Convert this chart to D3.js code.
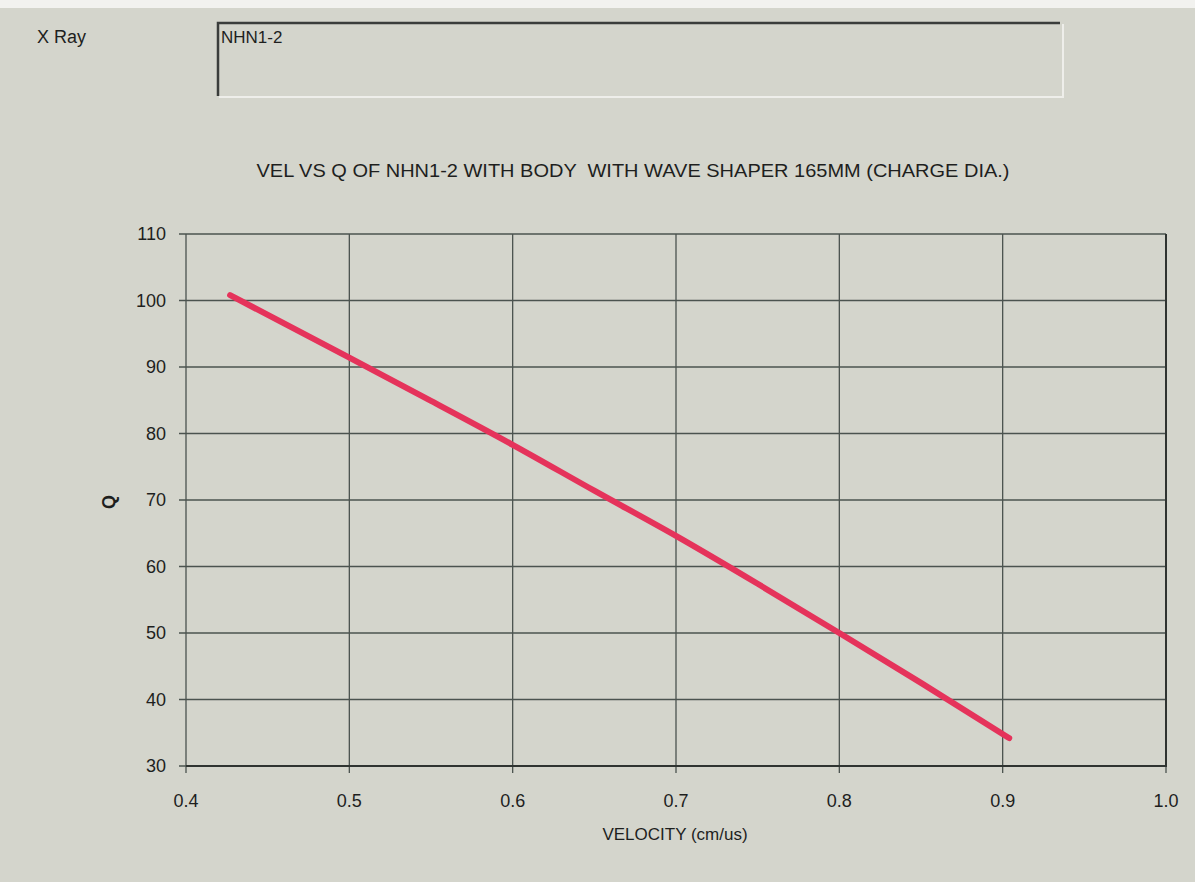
<!DOCTYPE html>
<html>
<head>
<meta charset="utf-8">
<script src="https://cdn.jsdelivr.net/npm/d3@7"></script>
<style>
  body { margin: 0; background: #d4d5cc; }
  svg { display: block; }
  text { font-family: "Liberation Sans", Arial, sans-serif; fill: #1e1f1e; white-space: pre; }
</style>
</head>
<body>
<svg></svg>
<script>
// values
const velocity = [0.427, 0.5, 0.55, 0.6, 0.65, 0.7, 0.75, 0.8, 0.85, 0.904];
const qValues  = [100.8, 91.4, 84.9, 78.3, 71.4, 64.6, 57.4, 50.0, 42.5, 34.2];
const xTicks = [0.4, 0.5, 0.6, 0.7, 0.8, 0.9, 1.0];
const yTicks = [30, 40, 50, 60, 70, 80, 90, 100, 110];

const width = 1195, height = 882;
const plotLeft = 186, plotRight = 1166, plotTop = 234, plotBottom = 766;

let svg = d3.select('svg')
  .attr('width', width)
  .attr('height', height);

svg.append('rect')
  .attr('width', width).attr('height', height)
  .attr('fill', '#d4d5cc');
svg.append('rect')
  .attr('width', width).attr('height', 8)
  .attr('fill', '#f2f2ef');

// header
svg.append('text')
  .attr('x', 37).attr('y', 43)
  .style('font-size', '18px')
  .text('X Ray');

svg.append('path')
  .attr('d', 'M218,96 L218,23 L1060,23')
  .attr('fill', 'none')
  .attr('stroke', '#3a3d3b')
  .attr('stroke-width', 2.5);
svg.append('path')
  .attr('d', 'M219,97 L1063,97 L1063,24')
  .attr('fill', 'none')
  .attr('stroke', '#eeeeea')
  .attr('stroke-width', 2);
svg.append('text')
  .attr('x', 221).attr('y', 43)
  .style('font-size', '17px')
  .text('NHN1-2');

svg.append('text')
  .attr('x', 633).attr('y', 177)
  .attr('text-anchor', 'middle')
  .attr('textLength', 753)
  .attr('lengthAdjust', 'spacingAndGlyphs')
  .style('font-size', '18px')
  .text('VEL VS Q OF NHN1-2 WITH BODY  WITH WAVE SHAPER 165MM (CHARGE DIA.)');

let x = d3.scaleLinear().domain([0.4, 1.0]).range([plotLeft, plotRight]);
let y = d3.scaleLinear().domain([30, 110]).range([plotBottom, plotTop]);

// grid
svg.append('g')
  .selectAll('line')
  .data(xTicks)
  .join('line')
  .attr('x1', d => x(d)).attr('x2', d => x(d))
  .attr('y1', plotTop).attr('y2', plotBottom + 7)
  .attr('stroke', '#4b534f')
  .attr('stroke-width', 1.3);

svg.append('g')
  .selectAll('line')
  .data(yTicks)
  .join('line')
  .attr('x1', plotLeft - 7).attr('x2', plotRight)
  .attr('y1', d => y(d)).attr('y2', d => y(d))
  .attr('stroke', '#4b534f')
  .attr('stroke-width', 1.3);

// frame right + bottom
svg.append('path')
  .attr('d', `M${plotLeft},${plotBottom} L${plotRight},${plotBottom} L${plotRight},${plotTop}`)
  .attr('fill', 'none')
  .attr('stroke', '#2f3431')
  .attr('stroke-width', 2);

// tick labels
svg.append('g')
  .selectAll('text')
  .data(xTicks)
  .join('text')
  .attr('x', d => x(d))
  .attr('y', 807)
  .attr('text-anchor', 'middle')
  .style('font-size', '18px')
  .text(d => d3.format('.1f')(d));

svg.append('g')
  .selectAll('text')
  .data(yTicks)
  .join('text')
  .attr('x', 166)
  .attr('y', d => y(d) + 6)
  .attr('text-anchor', 'end')
  .style('font-size', '18px')
  .text(d => d);

// axis titles
svg.append('text')
  .attr('x', 675).attr('y', 840)
  .attr('text-anchor', 'middle')
  .style('font-size', '17px')
  .text('VELOCITY (cm/us)');

svg.append('text')
  .attr('transform', 'translate(115,502) rotate(-90)')
  .attr('text-anchor', 'middle')
  .style('font-size', '18px')
  .style('font-weight', 'bold')
  .text('Q');

// data line
let lineGenerator = d3.line()
  .x(d => x(d[0]))
  .y(d => y(d[1]))
  .curve(d3.curveMonotoneX);

svg.append('path')
  .datum(d3.zip(velocity, qValues))
  .attr('d', lineGenerator)
  .attr('fill', 'none')
  .attr('stroke', '#e5335b')
  .attr('stroke-width', 6)
  .attr('stroke-linecap', 'round')
  .attr('stroke-linejoin', 'round');
</script>
</body>
</html>
